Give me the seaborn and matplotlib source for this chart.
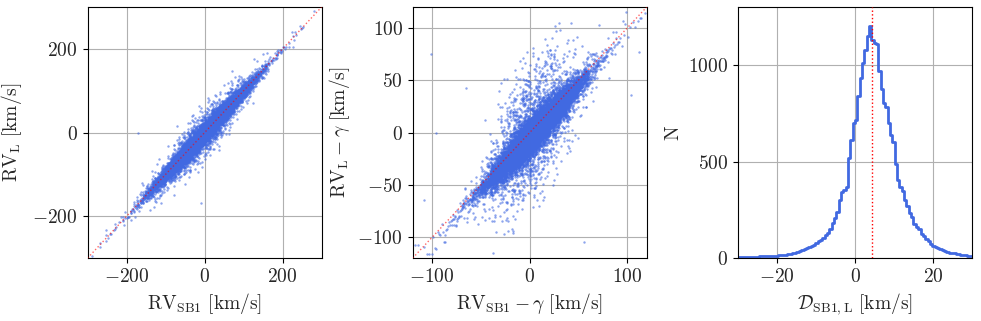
import numpy as np
import matplotlib
matplotlib.use("Agg")
import matplotlib.pyplot as plt
import matplotlib.ticker as mticker
import seaborn as sns

# -------------------------------
# Values
# -------------------------------

# D_SB1,L histogram: bins of 0.6 km/s from -30 to 30, plus coarse wings outside the view
hist_edges = np.linspace(-30, 30, 101)
d_edges = np.concatenate([[-80, -60, -50, -40], hist_edges, [40, 50, 60, 80]])
d_counts = [30, 40, 70, 120,
            4, 5, 5, 6, 6, 7, 7, 8, 8, 9,
            9, 10, 10, 11, 11, 12, 13, 14, 15, 16,
            18, 20, 22, 25, 28, 32, 36, 40, 46, 52,
            58, 64, 70, 78, 88, 96, 104, 118, 130, 150,
            180, 210, 240, 300, 340, 355, 370, 520, 610, 700,
            715, 840, 935, 1010, 1080, 1150, 1200, 1130, 1115, 1110,
            970, 875, 805, 780, 700, 640, 600, 485, 405, 370,
            345, 300, 268, 235, 215, 175, 160, 150, 125, 115,
            100, 90, 75, 62, 58, 52, 48, 40, 35, 32,
            28, 26, 24, 22, 20, 18, 16, 14, 12, 9,
            140, 80, 40, 25]

# RV_SB1 - gamma distribution (10 km/s bins), estimated from panel 2 density
dx_edges = np.arange(-120, 121, 10)
dx_counts = [2, 3, 5, 8, 15, 30, 70, 200, 550, 1300, 2500, 3500,
             3600, 3000, 2100, 1200, 500, 180, 60, 25, 12, 6, 3, 2]

# gamma distribution (20 km/s bins), estimated from panel 1 spread
g_edges = np.arange(-300, 301, 20)
g_counts = [1, 2, 3, 4, 6, 10, 18, 40, 130, 380, 950, 1800, 2800, 3500, 3800,
            3500, 2600, 1650, 850, 380, 160, 60, 25, 12, 10, 10, 2, 1, 2, 1]

# RV_SB1 - RV_L spread seen across panel 1 (5 km/s bins)
r1_edges = np.arange(-80, 81, 5)
r1_counts = [1, 1, 2, 3, 4, 6, 9, 13, 20, 30, 50, 100, 280, 600, 1300, 3200,
             3700, 1600, 700, 300, 130, 65, 38, 24, 15, 10, 6, 4, 3, 2, 1, 1]

# a few isolated points
out1_x = [-172, -8, 45, -70, 205, 210, 280]
out1_y = [0, -168, -6, 15, 200, 205, 290]
out2_x = [-101, -96, 56, 104, -17, -65, -108, 112, 80, 113]
out2_y = [75, 0, -105, 36, -80, 43, -64, 77, 90, 110]


def hist_samples(edges, counts, n):
    cdf = np.concatenate([[0], np.cumsum(counts)]) / np.sum(counts)
    q = (np.arange(n) + 0.5) / n
    return np.interp(q, cdf, edges)


def mix_order(n, salt):
    # fixed integer hash of the index, used only to decide which values get paired
    k = (np.arange(n, dtype=np.uint64) + np.uint64(salt)) * np.uint64(2654435761)
    k &= np.uint64(0xFFFFFFFF)
    k ^= k >> np.uint64(15)
    k = (k * np.uint64(2246822519)) & np.uint64(0xFFFFFFFF)
    k ^= k >> np.uint64(13)
    return np.argsort(k, kind="stable")


n = int(np.sum(d_counts))
D = hist_samples(d_edges, d_counts, n)
dx = hist_samples(dx_edges, dx_counts, n)[mix_order(n, 11)]
gam = hist_samples(g_edges, g_counts, n)[mix_order(n, 577)]
r1 = hist_samples(r1_edges, r1_counts, n)[mix_order(n, 9001)]

x1 = np.concatenate([gam + dx, out1_x])
y1 = np.concatenate([gam + dx - r1, out1_y])
x2 = np.concatenate([dx, out2_x])
y2 = np.concatenate([dx - D, out2_y])
D_view = D[(D >= -30) & (D <= 30)]

# -------------------------------
# Plot
# -------------------------------

sns.set_style("ticks")
plt.rcParams['mathtext.fontset'] = 'cm'
plt.rcParams['font.family'] = ['DejaVu Serif']
plt.rcParams['font.size'] = 14

fig = plt.figure(figsize=(9.81, 3.21), dpi=100)
ax1 = fig.add_axes([0.0893, 0.196, 0.2385, 0.782])
ax2 = fig.add_axes([0.4207, 0.196, 0.2385, 0.782])
ax3 = fig.add_axes([0.7523, 0.196, 0.2385, 0.782])

blue = "royalblue"
fmt = mticker.FuncFormatter(lambda v, p: f"${v:g}$")

sns.scatterplot(x=x1, y=y1, s=3, color=blue, alpha=0.6, linewidth=0, ax=ax1, zorder=2)
ax1.axline((0, 0), slope=1, color="red", ls=":", lw=1, alpha=0.6, zorder=3)
ax1.set_xlim(-300, 300)
ax1.set_ylim(-300, 300)
ax1.set_xticks([-200, 0, 200])
ax1.set_yticks([-200, 0, 200])
ax1.set_xlabel(r"$\mathrm{RV_{SB1}\ [km/s]}$", fontsize=14)
ax1.set_ylabel(r"$\mathrm{RV_{L}\ [km/s]}$", fontsize=14, labelpad=6)

sns.scatterplot(x=x2, y=y2, s=3, color=blue, alpha=0.6, linewidth=0, ax=ax2, zorder=2)
ax2.axline((0, 0), slope=1, color="red", ls=":", lw=1, alpha=0.6, zorder=3)
ax2.set_xlim(-120, 120)
ax2.set_ylim(-120, 120)
ax2.set_xticks([-100, 0, 100])
ax2.set_yticks([-100, -50, 0, 50, 100])
ax2.set_xlabel(r"$\mathrm{RV_{SB1}} - \gamma\ \mathrm{[km/s]}$", fontsize=14)
ax2.set_ylabel(r"$\mathrm{RV_{L}} - \gamma\ \mathrm{[km/s]}$", fontsize=14)

sns.histplot(x=D_view, bins=hist_edges, element="step", fill=False, color=blue,
             linewidth=2, ax=ax3, zorder=2)
ax3.axvline(np.median(D), color="red", ls=":", lw=1, zorder=3)
ax3.set_xlim(-30, 30)
ax3.set_ylim(0, 1300)
ax3.set_xticks([-20, 0, 20])
ax3.set_yticks([0, 500, 1000])
ax3.set_xlabel(r"$\mathcal{D}_\mathrm{SB1,L}\ \mathrm{[km/s]}$", fontsize=14)
ax3.set_ylabel(r"$\mathrm{N}$", fontsize=14)

for ax in (ax1, ax2, ax3):
    ax.grid(True, color="#b0b0b0", lw=0.8, zorder=0)
    ax.set_axisbelow(True)
    ax.xaxis.set_major_formatter(fmt)
    ax.yaxis.set_major_formatter(fmt)
    ax.tick_params(labelsize=14, length=3.5, width=0.8, color="black")
    for s in ax.spines.values():
        s.set_color("black")
        s.set_linewidth(0.8)

fig.savefig("out.png", dpi=100)
